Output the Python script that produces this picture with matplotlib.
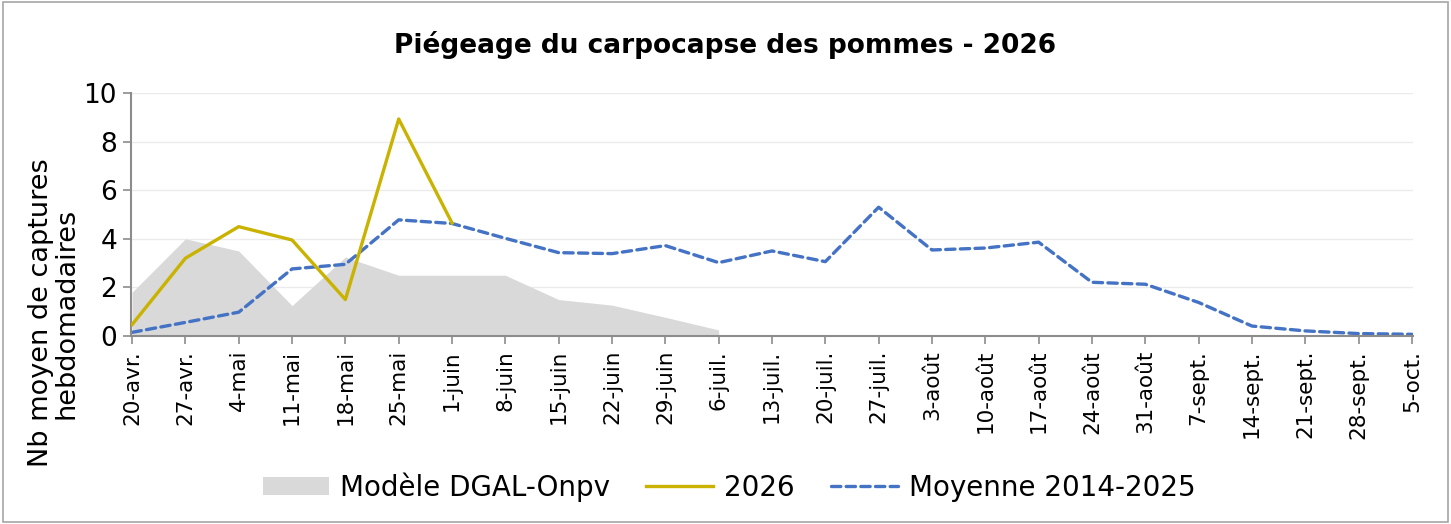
import numpy as np
import matplotlib.pyplot as plt
from matplotlib.patches import Rectangle

# week labels
semaines = ['20-avr.', '27-avr.', '4-mai', '11-mai', '18-mai', '25-mai', '1-juin',
            '8-juin', '15-juin', '22-juin', '29-juin', '6-juil.', '13-juil.', '20-juil.',
            '27-juil.', '3-août', '10-août', '17-août', '24-août', '31-août', '7-sept.',
            '14-sept.', '21-sept.', '28-sept.', '5-oct.']

# Modèle DGAL-Onpv (20-avr. -> 6-juil.)
modele = [1.8, 4.0, 3.5, 1.25, 3.25, 2.5, 2.5, 2.5, 1.5, 1.27, 0.77, 0.25]

# 2026 (20-avr. -> 1-juin)
annee_2026 = [0.47, 3.2, 4.5, 3.95, 1.5, 8.93, 4.65]

# Moyenne 2014-2025
moyenne = [0.15, 0.56, 0.98, 2.76, 2.95, 4.78, 4.63, 4.02, 3.43, 3.39, 3.72, 3.02,
           3.5, 3.06, 5.3, 3.54, 3.62, 3.86, 2.21, 2.13, 1.38, 0.41, 0.21, 0.1, 0.07]

x = np.arange(len(semaines))

fig = plt.figure(figsize=(14.51, 5.24), dpi=100)
ax = fig.add_axes([131 / 1451, 1 - 336 / 524, (1413 - 131) / 1451, (336 - 93) / 524])

ax.fill_between(x[:len(modele)], 0, modele, color='#D9D9D9', lw=0,
                label='Modèle DGAL-Onpv', zorder=1)
ax.plot(x[:len(annee_2026)], annee_2026, color='#C9B200', lw=2.4,
        label='2026', zorder=3)
ax.plot(x, moyenne, color='#4472C4', lw=2.4, linestyle=(0, (2.8, 1.6)),
        dash_capstyle='round', label='Moyenne 2014-2025', zorder=2)

ax.set_xlim(-0.02, len(semaines) - 1 + 0.02)
ax.set_ylim(0, 10)
ax.set_yticks([0, 2, 4, 6, 8, 10])
ax.set_xticks(x)
ax.set_xticklabels(semaines, rotation=90, fontsize=15.5)
ax.tick_params(axis='y', labelsize=19, length=6, color='#8C8C8C', width=1.2, pad=4)
ax.tick_params(axis='x', length=6, color='#8C8C8C', width=1.2, pad=4)

ax.grid(axis='y', color='#EBEBEB', lw=1)
ax.set_axisbelow(True)
for s in ['top', 'right']:
    ax.spines[s].set_visible(False)
for s in ['left', 'bottom']:
    ax.spines[s].set_color('#8C8C8C')
    ax.spines[s].set_linewidth(1.5)

# y label is centred lower, over axis + tick labels like in Excel
ax.set_ylabel('Nb moyen de captures\nhebdomadaires', fontsize=19.5, linespacing=1.0,
              va='center')
ax.yaxis.set_label_coords((54 - 131) / 1282, (336 - 313) / 243)

fig.suptitle('Piégeage du carpocapse des pommes - 2026', fontsize=19,
             fontweight='bold', y=1 - 45 / 524, va='center')

handles, labels = ax.get_legend_handles_labels()
fig.legend(handles, labels, loc='center', bbox_to_anchor=(729 / 1451, 1 - 487 / 524),
           ncol=3, frameon=False, fontsize=20, handlelength=2.4, handleheight=0.6,
           columnspacing=1.3, handletextpad=0.4)

# border around the figure
fig.patches.append(Rectangle((0.002, 0.003), 0.996, 0.994, transform=fig.transFigure,
                             fill=False, edgecolor='#A6A6A6', lw=1.2))

fig.savefig('out.png', dpi=100)
